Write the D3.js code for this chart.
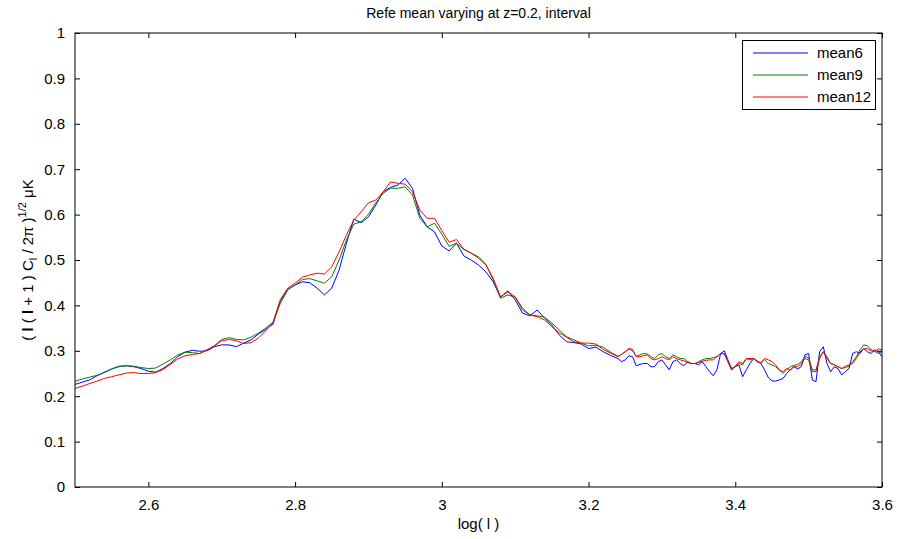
<!DOCTYPE html>
<html><head><meta charset="utf-8">
<script src="https://cdn.jsdelivr.net/npm/d3@7"></script>
<style>body{margin:0;background:#fff}svg{display:block}text{font-family:"Liberation Sans",Arial,sans-serif}</style>
</head><body><svg id="c" width="901" height="539"></svg>
<script>
const logl = [2.50,2.51,2.52,2.53,2.54,2.55,2.56,2.57,2.58,2.59,2.60,2.61,2.62,2.63,2.64,2.65,2.66,2.67,2.68,2.69,2.70,2.71,2.72,2.73,2.74,2.75,2.76,2.77,2.78,2.79,2.80,2.81,2.82,2.83,2.84,2.85,2.86,2.87,2.88,2.89,2.90,2.91,2.92,2.93,2.94,2.95,2.96,2.97,2.98,2.99,3.00,3.01,3.02,3.03,3.04,3.05,3.06,3.07,3.08,3.09,3.10,3.11,3.12,3.13,3.14,3.15,3.16,3.17,3.18,3.19,3.20,3.21,3.22,3.23,3.24,3.245,3.25,3.255,3.26,3.265,3.27,3.275,3.28,3.285,3.29,3.295,3.30,3.305,3.31,3.315,3.32,3.325,3.33,3.335,3.34,3.345,3.35,3.355,3.36,3.365,3.37,3.375,3.38,3.385,3.39,3.395,3.40,3.405,3.41,3.415,3.42,3.425,3.43,3.435,3.44,3.445,3.45,3.455,3.46,3.465,3.47,3.475,3.48,3.485,3.49,3.495,3.50,3.505,3.51,3.515,3.52,3.525,3.53,3.535,3.54,3.545,3.55,3.555,3.56,3.565,3.57,3.575,3.58,3.585,3.59,3.595,3.60];
const mean6 = [0.226,0.231,0.236,0.245,0.253,0.260,0.266,0.267,0.265,0.261,0.255,0.253,0.261,0.272,0.287,0.297,0.301,0.299,0.300,0.309,0.313,0.313,0.309,0.317,0.324,0.337,0.347,0.359,0.410,0.435,0.445,0.452,0.450,0.438,0.423,0.438,0.478,0.537,0.590,0.582,0.595,0.621,0.650,0.660,0.665,0.680,0.658,0.599,0.573,0.562,0.531,0.520,0.537,0.509,0.500,0.489,0.474,0.452,0.418,0.432,0.412,0.383,0.377,0.390,0.372,0.357,0.335,0.320,0.318,0.315,0.305,0.308,0.298,0.290,0.283,0.276,0.280,0.289,0.287,0.267,0.270,0.272,0.272,0.265,0.265,0.276,0.280,0.269,0.258,0.276,0.280,0.272,0.267,0.276,0.272,0.272,0.269,0.276,0.265,0.254,0.245,0.258,0.294,0.300,0.280,0.261,0.265,0.269,0.243,0.258,0.272,0.283,0.276,0.272,0.258,0.241,0.234,0.233,0.236,0.239,0.250,0.258,0.265,0.260,0.265,0.291,0.294,0.236,0.232,0.298,0.309,0.272,0.254,0.265,0.261,0.247,0.254,0.261,0.294,0.298,0.294,0.305,0.298,0.294,0.302,0.298,0.287];
const mean9 = [0.233,0.238,0.242,0.246,0.252,0.260,0.265,0.267,0.266,0.263,0.261,0.262,0.271,0.280,0.291,0.297,0.296,0.294,0.302,0.311,0.325,0.329,0.325,0.324,0.330,0.339,0.350,0.363,0.405,0.434,0.445,0.457,0.459,0.454,0.449,0.463,0.500,0.544,0.579,0.584,0.601,0.626,0.647,0.658,0.658,0.661,0.643,0.592,0.573,0.581,0.557,0.530,0.537,0.523,0.515,0.507,0.491,0.456,0.416,0.423,0.418,0.390,0.379,0.377,0.374,0.361,0.346,0.331,0.324,0.317,0.311,0.312,0.308,0.297,0.288,0.292,0.298,0.304,0.300,0.288,0.291,0.294,0.293,0.287,0.283,0.291,0.294,0.287,0.283,0.291,0.287,0.283,0.283,0.276,0.272,0.272,0.276,0.280,0.283,0.283,0.285,0.287,0.294,0.294,0.276,0.258,0.265,0.272,0.269,0.283,0.280,0.283,0.278,0.272,0.280,0.272,0.269,0.265,0.258,0.250,0.258,0.265,0.268,0.270,0.276,0.287,0.285,0.258,0.258,0.287,0.298,0.287,0.272,0.269,0.265,0.261,0.263,0.266,0.276,0.287,0.302,0.313,0.311,0.303,0.299,0.294,0.298];
const mean12 = [0.217,0.222,0.228,0.233,0.239,0.243,0.247,0.251,0.252,0.250,0.250,0.252,0.259,0.270,0.282,0.289,0.292,0.294,0.302,0.311,0.322,0.325,0.322,0.316,0.318,0.328,0.344,0.363,0.413,0.438,0.449,0.462,0.467,0.471,0.469,0.485,0.518,0.555,0.588,0.606,0.626,0.632,0.650,0.672,0.669,0.667,0.650,0.610,0.592,0.592,0.565,0.539,0.545,0.524,0.515,0.504,0.489,0.460,0.419,0.430,0.419,0.394,0.379,0.375,0.368,0.353,0.340,0.330,0.320,0.317,0.317,0.315,0.303,0.295,0.287,0.292,0.298,0.305,0.303,0.287,0.287,0.289,0.291,0.283,0.280,0.283,0.287,0.283,0.280,0.287,0.283,0.280,0.278,0.274,0.272,0.272,0.274,0.277,0.279,0.280,0.280,0.287,0.294,0.293,0.276,0.258,0.266,0.276,0.272,0.283,0.283,0.283,0.276,0.274,0.283,0.280,0.276,0.269,0.258,0.254,0.261,0.258,0.265,0.265,0.272,0.283,0.280,0.254,0.254,0.283,0.298,0.283,0.272,0.269,0.265,0.261,0.266,0.269,0.272,0.283,0.298,0.304,0.305,0.300,0.298,0.304,0.302];
const seriesNames = ["mean6","mean9","mean12"];
const seriesColors = ["#0000ff","#008000","#ff0000"];
const xTicks = [2.6,2.8,3.0,3.2,3.4,3.6];
const yTicks = [0,0.1,0.2,0.3,0.4,0.5,0.6,0.7,0.8,0.9,1];
const titleText = "Refe mean varying at z=0.2, interval";

const svg = d3.select("#c");
const L=75,R=882,T=33,B=487;
const x = d3.scaleLinear().domain([2.5,3.6]).range([L,R]);
const y = d3.scaleLinear().domain([0,1]).range([B,T]);
const fmt = d => (d===0||d===1||d===3) ? String(d) : String(d);

// lines
const clip = svg.append("clipPath").attr("id","clp").append("rect").attr("x",L).attr("y",T).attr("width",R-L).attr("height",B-T);
const allSeries=[mean6,mean9,mean12];
const line = d3.line().x((d,i)=>x(logl[i])).y(d=>y(d));
allSeries.forEach((s,k)=>{
  svg.append("path").attr("d",line(s)).attr("fill","none").attr("stroke",seriesColors[k]).attr("stroke-width",1).attr("clip-path","url(#clp)");
});

// axes with inward ticks
const tl=5;
const gB = svg.append("g").attr("transform",`translate(0,${B})`).call(d3.axisBottom(x).tickValues(xTicks).tickSize(-tl).tickPadding(12).tickFormat(d=>String(+d.toFixed(1))));
const gT = svg.append("g").attr("transform",`translate(0,${T})`).call(d3.axisTop(x).tickValues(xTicks).tickSize(-tl).tickFormat(""));
const gL = svg.append("g").attr("transform",`translate(${L},0)`).call(d3.axisLeft(y).tickValues(yTicks).tickSize(-tl).tickPadding(10).tickFormat(d=>String(+d.toFixed(1))));
const gR = svg.append("g").attr("transform",`translate(${R},0)`).call(d3.axisRight(y).tickValues(yTicks).tickSize(-tl).tickFormat(""));
[gB,gT,gL,gR].forEach(g=>{g.select(".domain").remove(); g.selectAll("line").attr("stroke","#000"); g.selectAll("text").attr("font-size",15).attr("fill","#000").attr("font-family","Liberation Sans, Arial, sans-serif");});
svg.append("rect").attr("x",L).attr("y",T).attr("width",R-L).attr("height",B-T).attr("fill","none").attr("stroke","#000").attr("stroke-width",1);

// title
svg.append("text").attr("x",(L+R)/2).attr("y",18).attr("text-anchor","middle").attr("font-size",14).attr("font-family","Liberation Sans Narrow, Liberation Sans, Arial").text(titleText);
// x label
svg.append("text").attr("x",(L+R)/2-0).attr("y",529).attr("text-anchor","middle").attr("font-size",15).text("log( l )");
// y label
const yl = svg.append("text").attr("transform","translate(33,260) rotate(-90)").attr("text-anchor","middle").attr("font-size",15);
yl.append("tspan").text("( ");
yl.append("tspan").attr("font-weight","bold").text("l");
yl.append("tspan").text(" ( ");
yl.append("tspan").attr("font-weight","bold").text("l");
yl.append("tspan").text(" + 1 ) C");
yl.append("tspan").attr("font-size",11).attr("dy",4).text("l");
yl.append("tspan").attr("dy",-4).text(" / 2π )");
yl.append("tspan").attr("font-size",11).attr("dy",-7).text("1/2");
yl.append("tspan").attr("dy",7).text(" μK");

// legend
const lg = svg.append("g");
lg.append("rect").attr("x",742.5).attr("y",40.5).attr("width",133).attr("height",69).attr("fill","#fff").attr("stroke","#000");
seriesNames.forEach((n,k)=>{
  const yy = 53 + k*22;
  lg.append("line").attr("x1",753).attr("x2",808).attr("y1",yy).attr("y2",yy).attr("stroke",seriesColors[k]);
  lg.append("text").attr("x",817).attr("y",yy+5).attr("font-size",15).text(n);
});
</script></body></html>
